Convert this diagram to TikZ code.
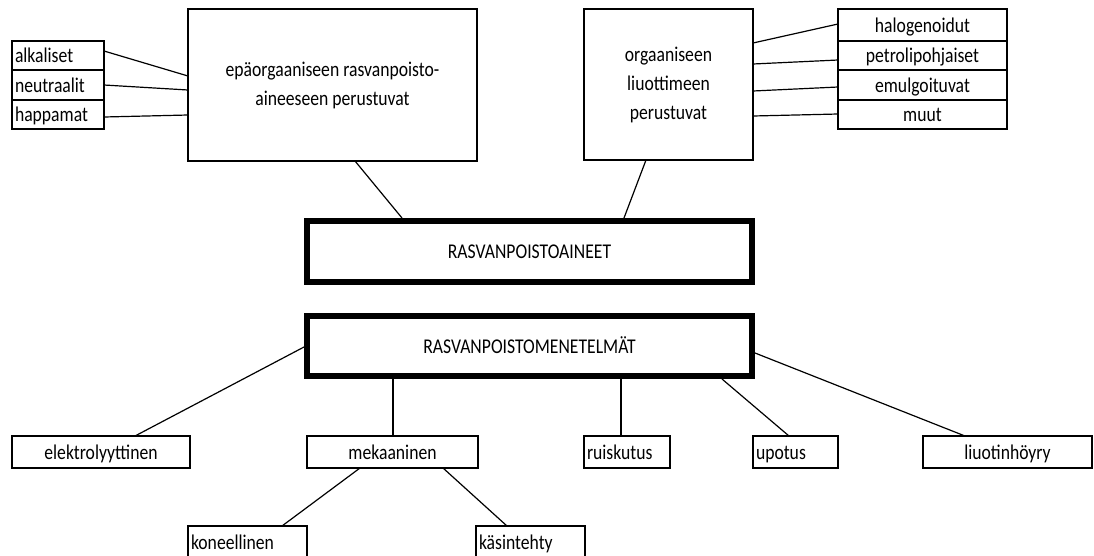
\documentclass[tikz,border=0pt]{standalone}
\usepackage{fontspec}
\setmainfont{Carlito}[FakeStretch=0.84]
\usetikzlibrary{calc}
\begin{document}
\begin{tikzpicture}[x=1pt,y=-1pt,
  box/.style={draw, line width=1.4pt, inner sep=0pt, outer sep=0pt, anchor=north west,
    font=\fontsize{21}{29}\selectfont},
  sbox/.style={box, text height=17pt, text depth=3pt},
  lbox/.style={sbox, inner xsep=3pt, align=left},
  bigbox/.style={sbox, line width=5.5pt},
  link/.style={line width=1.2pt}]
\useasboundingbox (0,0) rectangle (1094,555);
\begin{scope}
\clip (0,0) rectangle (1094,555);
% top left list
\node[lbox, text width=86, minimum height=29] (alk) at (12,41) {alkaliset};
\node[lbox, text width=86, minimum height=30] (neu) at (12,70) {neutraalit};
\node[lbox, text width=86, minimum height=29] (hap) at (12,100) {happamat};
% big upper boxes
\node[box, minimum width=289, minimum height=152, align=center] (b1) at (188,9)
  {epäorgaaniseen rasvanpoisto-\\aineeseen perustuvat};
\node[box, minimum width=169, minimum height=151, align=center] (b2) at (584,9)
  {orgaaniseen\\liuottimeen\\perustuvat};
% right list
\node[sbox, minimum width=169, minimum height=32] (hal) at (838,9) {halogenoidut};
\node[sbox, minimum width=169, minimum height=29] (pet) at (838,41) {petrolipohjaiset};
\node[sbox, minimum width=169, minimum height=30] (emu) at (838,70) {emulgoituvat};
\node[sbox, minimum width=169, minimum height=29] (muu) at (838,100) {muut};
% central boxes
\node[bigbox, minimum width=445, minimum height=61] (r1) at (307,221) {RASVANPOISTOAINEET};
\node[bigbox, minimum width=445, minimum height=60] (r2) at (307,316) {RASVANPOISTOMENETELMÄT};
% bottom row
\node[sbox, minimum width=178, minimum height=32] (ele) at (12,436) {elektrolyyttinen};
\node[sbox, minimum width=171, minimum height=32] (mek) at (307,436) {mekaaninen};
\node[lbox, text width=80, minimum height=32] (rui) at (584,436) {ruiskutus};
\node[lbox, text width=79, minimum height=32] (upo) at (753,436) {upotus};
\node[sbox, minimum width=169, minimum height=32] (liu) at (923,436) {liuotinhöyry};
\node[lbox, text width=113, minimum height=32] (kon) at (188,526) {koneellinen};
\node[lbox, text width=103, minimum height=32] (kas) at (476,526) {käsintehty};
% connectors top left
\draw[link] ($(alk.north east)+(0,10)$) -- ($(b1.north west)+(0,67)$);
\draw[link] ($(neu.north east)+(0,15)$) -- ($(b1.north west)+(0,81)$);
\draw[link] ($(hap.north east)+(0,17)$) -- ($(b1.north west)+(0,106)$);
% connectors top right
\draw[link] ($(b2.north east)+(0,34)$) -- ($(hal.north west)+(0,15)$);
\draw[link] ($(b2.north east)+(0,55)$) -- ($(pet.north west)+(0,19)$);
\draw[link] ($(b2.north east)+(0,82)$) -- ($(emu.north west)+(0,17)$);
\draw[link] ($(b2.north east)+(0,107)$) -- ($(muu.north west)+(0,14)$);
% to RASVANPOISTOAINEET
\draw[link] ($(b1.south west)+(167,0)$) -- ($(r1.north west)+(95,-3)$);
\draw[link] ($(b2.south west)+(62,0)$) -- ($(r1.north west)+(317,-3)$);
% from RASVANPOISTOMENETELMAT
\draw[link] ($(r2.north west)+(-3,31)$) -- ($(ele.north west)+(123,0)$);
\draw[link] ($(r2.south west)+(86,3)$) -- ($(mek.north west)+(86,0)$);
\draw[link] ($(r2.south west)+(314,3)$) -- ($(rui.north west)+(37,0)$);
\draw[link] ($(r2.south west)+(415,3)$) -- ($(upo.north west)+(36,0)$);
\draw[link] ($(r2.north east)+(3,37)$) -- ($(liu.north west)+(42,0)$);
% from mekaaninen
\draw[link] ($(mek.south west)+(53,0)$) -- ($(kon.north west)+(94,0)$);
\draw[link] ($(mek.south west)+(136,0)$) -- ($(kas.north west)+(31,0)$);
\end{scope}
\end{tikzpicture}
\end{document}
